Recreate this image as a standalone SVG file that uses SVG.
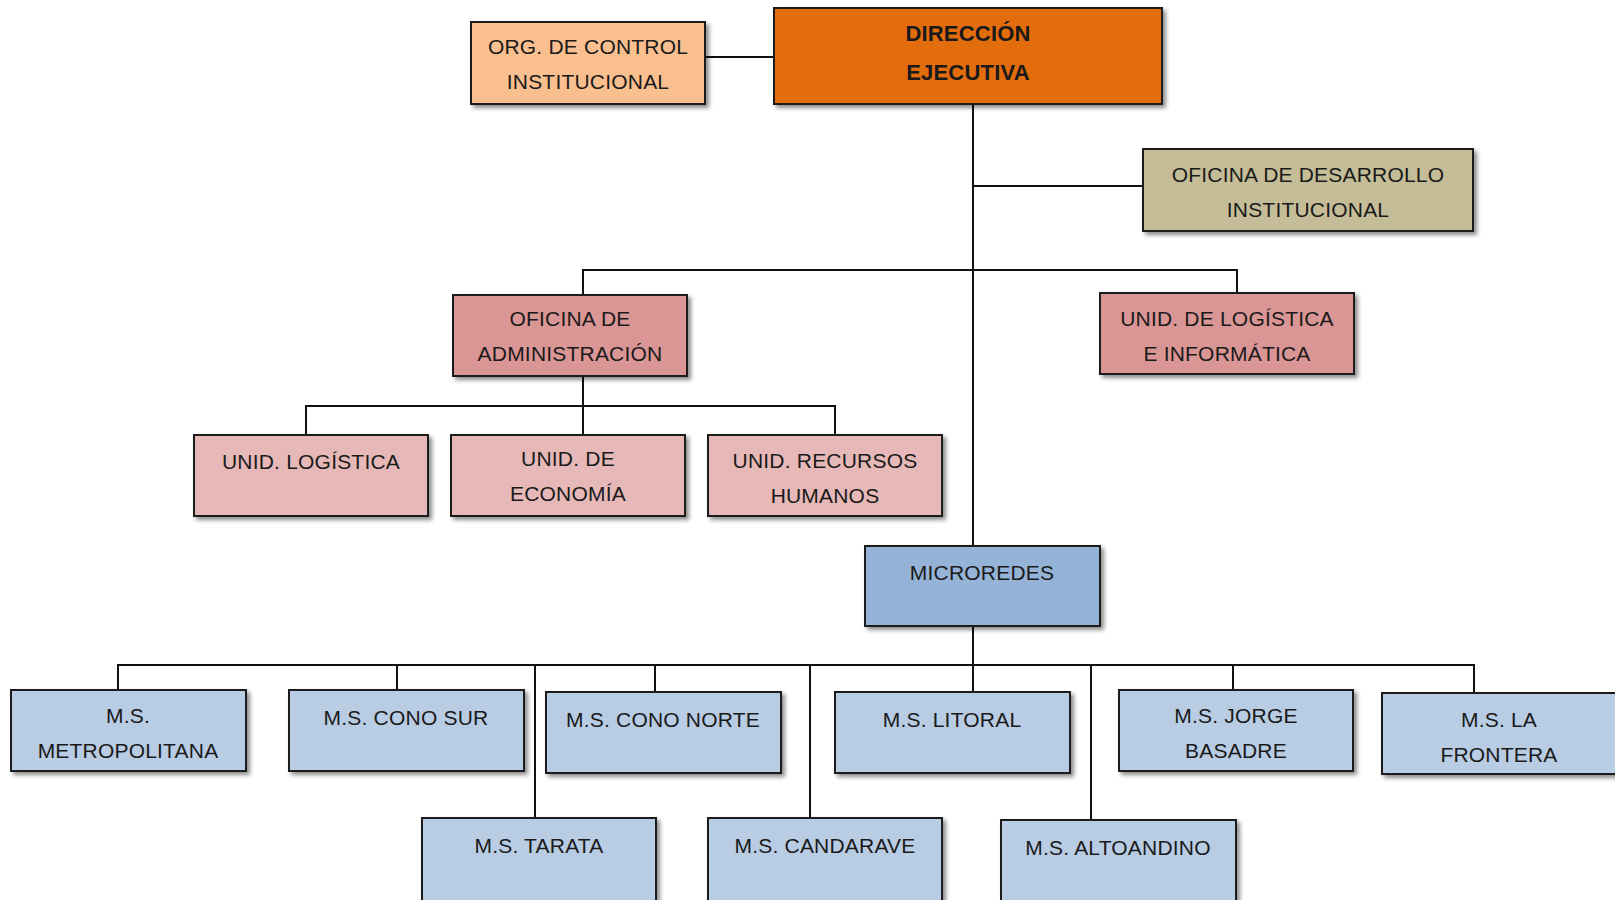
<svg xmlns="http://www.w3.org/2000/svg" width="1615" height="900" viewBox="0 0 1615 900">
<defs>
<filter id="sh" x="-10%" y="-10%" width="125%" height="130%">
<feDropShadow dx="3" dy="3" stdDeviation="2" flood-color="#000" flood-opacity="0.45"/>
</filter>
<style>
.b{stroke:#1a1a1a;stroke-width:2;filter:url(#sh)}
.t{font-family:"Liberation Sans",Arial,sans-serif;font-size:21px;letter-spacing:0.2px;fill:#1a1a1a;text-anchor:middle}
.tb{font-weight:bold;font-size:22px}
.c{stroke:#111;stroke-width:2;fill:none}
.dir{fill:#E36C0A}.org{fill:#FABF8F}.des{fill:#C4BD97}.adm{fill:#DA9694}.uni{fill:#E6B8B7}.mic{fill:#95B3D7}.ms{fill:#B8CCE4}
</style>
</defs>
<rect width="1615" height="900" fill="#fff"/>
<g id="connectors">
<path class="c" d="M705 57H774"/>
<path class="c" d="M973 104V546"/>
<path class="c" d="M973 186H1143"/>
<path class="c" d="M583 295V270H1237V293"/>
<path class="c" d="M583 376V435"/>
<path class="c" d="M306 435V406H835V435"/>
<path class="c" d="M973 626V692"/>
<path class="c" d="M118 690V665H1474V693"/>
<path class="c" d="M397 665V690"/>
<path class="c" d="M535 665V818"/>
<path class="c" d="M655 665V692"/>
<path class="c" d="M810 665V818"/>
<path class="c" d="M1091 665V820"/>
<path class="c" d="M1233 665V690"/>
</g>
<g id="direccion"><rect class="b dir" x="774" y="8" width="388" height="96"/><text class="t tb" x="968" y="41">DIRECCIÓN</text><text class="t tb" x="968" y="80">EJECUTIVA</text></g>
<g id="org-control"><rect class="b org" x="471" y="22" width="234" height="82"/><text class="t" x="588" y="54">ORG. DE CONTROL</text><text class="t" x="588" y="89">INSTITUCIONAL</text></g>
<g id="desarrollo"><rect class="b des" x="1143" y="149" width="330" height="82"/><text class="t" x="1308" y="182">OFICINA DE DESARROLLO</text><text class="t" x="1308" y="217">INSTITUCIONAL</text></g>
<g id="administracion"><rect class="b adm" x="453" y="295" width="234" height="81"/><text class="t" x="570" y="326">OFICINA DE</text><text class="t" x="570" y="361">ADMINISTRACIÓN</text></g>
<g id="logistica-informatica"><rect class="b adm" x="1100" y="293" width="254" height="81"/><text class="t" x="1227" y="326">UNID. DE LOGÍSTICA</text><text class="t" x="1227" y="361">E INFORMÁTICA</text></g>
<g id="unid-logistica"><rect class="b uni" x="194" y="435" width="234" height="81"/><text class="t" x="311" y="469">UNID. LOGÍSTICA</text></g>
<g id="unid-economia"><rect class="b uni" x="451" y="435" width="234" height="81"/><text class="t" x="568" y="466">UNID. DE</text><text class="t" x="568" y="501">ECONOMÍA</text></g>
<g id="unid-rrhh"><rect class="b uni" x="708" y="435" width="234" height="81"/><text class="t" x="825" y="468">UNID. RECURSOS</text><text class="t" x="825" y="503">HUMANOS</text></g>
<g id="microredes"><rect class="b mic" x="865" y="546" width="235" height="80"/><text class="t" x="982" y="580">MICROREDES</text></g>
<g id="ms-metropolitana"><rect class="b ms" x="11" y="690" width="235" height="81"/><text class="t" x="128" y="723">M.S.</text><text class="t" x="128" y="758">METROPOLITANA</text></g>
<g id="ms-cono-sur"><rect class="b ms" x="289" y="690" width="235" height="81"/><text class="t" x="406" y="725">M.S. CONO SUR</text></g>
<g id="ms-cono-norte"><rect class="b ms" x="546" y="692" width="235" height="81"/><text class="t" x="663" y="727">M.S. CONO NORTE</text></g>
<g id="ms-litoral"><rect class="b ms" x="835" y="692" width="235" height="81"/><text class="t" x="952" y="727">M.S. LITORAL</text></g>
<g id="ms-jorge-basadre"><rect class="b ms" x="1119" y="690" width="234" height="81"/><text class="t" x="1236" y="723">M.S. JORGE</text><text class="t" x="1236" y="758">BASADRE</text></g>
<g id="ms-la-frontera"><rect class="b ms" x="1382" y="693" width="240" height="81"/><text class="t" x="1499" y="727">M.S. LA</text><text class="t" x="1499" y="762">FRONTERA</text></g>
<g id="ms-tarata"><rect class="b ms" x="422" y="818" width="234" height="90"/><text class="t" x="539" y="853">M.S. TARATA</text></g>
<g id="ms-candarave"><rect class="b ms" x="708" y="818" width="234" height="90"/><text class="t" x="825" y="853">M.S. CANDARAVE</text></g>
<g id="ms-altoandino"><rect class="b ms" x="1001" y="820" width="235" height="90"/><text class="t" x="1118" y="855">M.S. ALTOANDINO</text></g>
</svg>
